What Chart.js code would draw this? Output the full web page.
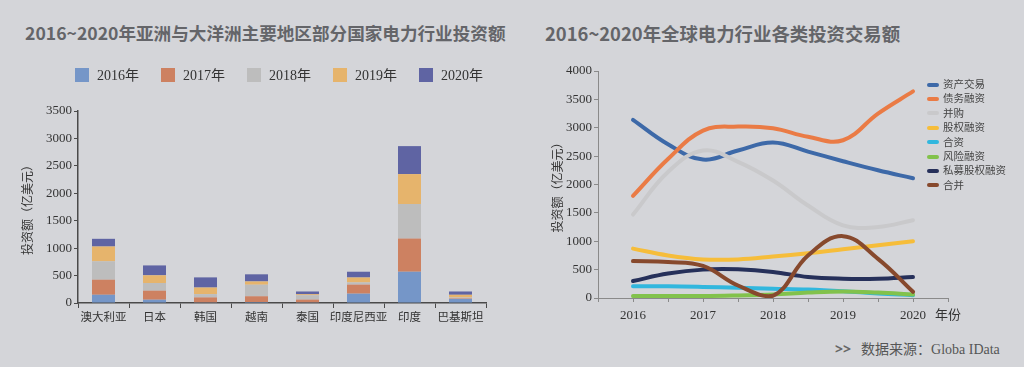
<!DOCTYPE html>
<html>
<head>
<meta charset="utf-8">
<script src="https://cdn.jsdelivr.net/npm/chart.js@4.4.1/dist/chart.umd.min.js"></script>
<style>
    html, body { margin: 0; padding: 0; }
    body {
        width: 1024px; height: 367px; overflow: hidden;
        background: #d4d5d9; position: relative;
        font-family: "Noto Sans CJK SC", "Noto Sans", sans-serif;
    }
    .title {
        position: absolute; top: 20px; font-weight: bold;
        color: #646569; white-space: nowrap;
    }
    .box { position: absolute; }
    .legend { position: absolute; font-family: "Liberation Serif", "Noto Sans CJK SC", serif; color: #333; }
    #legend-left { left: 75px; top: 67px; font-size: 14px; }
    #legend-left .item { display: inline-block; width: 86px; height: 18px; line-height: 18px; white-space: nowrap; }
    #legend-left .mark { display: inline-block; width: 14px; height: 14px; vertical-align: middle; margin: -3px 8px 0 0; }
    #legend-right { left: 927px; top: 78px; font-size: 10.5px; color: #444; }
    #legend-right .item { height: 14.4px; line-height: 14.4px; white-space: nowrap; }
    #legend-right .mark {
        display: inline-block; width: 12px; height: 4px; border-radius: 2px;
        vertical-align: middle; margin-right: 4px; margin-top: -2px;
    }
    #source {
        position: absolute; left: 835px; top: 338px; font-size: 14px; color: #555;
        font-family: "Liberation Serif", "Noto Sans CJK SC", serif; white-space: nowrap;
    }
    #source b { font-family: "Noto Sans", sans-serif; color: #666; margin-right: 10px; }
</style>
</head>
<body>
<div class="title" style="left:25px; font-size:17.6px">2016~2020年亚洲与大洋洲主要地区部分国家电力行业投资额</div>
<div class="title" style="left:545px; font-size:18.4px">2016~2020年全球电力行业各类投资交易额</div>

<div class="box" style="left:0px; top:55px; width:520px; height:280px;">
    <canvas id="chart-left" width="520" height="280"></canvas>
</div>
<div class="box" style="left:540px; top:55px; width:484px; height:280px;">
    <canvas id="chart-right" width="484" height="280"></canvas>
</div>
<div class="legend" id="legend-left"></div>
<div class="legend" id="legend-right"></div>
<div id="source"><b>&gt;&gt;</b>数据来源：Globa IData</div>

<script>
// ============================================
// Data
// ============================================

// left: stacked bars by country (亿美元)
const countries = ['澳大利亚', '日本', '韩国', '越南', '泰国', '印度尼西亚', '印度', '巴基斯坦'];
const yearLabels = ['2016年', '2017年', '2018年', '2019年', '2020年'];
const inv2016 = [150, 60, 12, 18, 12, 170, 570, 75];
const inv2017 = [275, 165, 90, 105, 50, 165, 605, 10];
const inv2018 = [335, 140, 60, 210, 80, 40, 630, 15];
const inv2019 = [270, 140, 120, 60, 18, 90, 545, 50];
const inv2020 = [140, 180, 185, 130, 50, 105, 510, 60];

// right: global deal values, sampled every half year
const dealYears = [2016, 2016.5, 2017, 2017.5, 2018, 2018.5, 2019, 2019.5, 2020];
const dealTypes = ['资产交易', '债务融资', '并购', '股权融资', '合资', '风险融资', '私募股权融资', '合并'];
const assetTrade = [3140, 2710, 2440, 2600, 2740, 2580, 2410, 2250, 2110];
const debtFinance = [1800, 2450, 2950, 3020, 2990, 2840, 2780, 3250, 3640];
const mergersAcq = [1470, 2220, 2600, 2400, 2070, 1630, 1280, 1250, 1370];
const equityFinance = [870, 750, 680, 680, 730, 790, 860, 930, 1000];
const jointVenture = [205, 205, 195, 180, 165, 150, 120, 80, 50];
const ventureFinance = [35, 35, 35, 45, 60, 95, 115, 95, 60];
const privateEquity = [300, 430, 500, 505, 460, 370, 340, 340, 370];
const merger = [650, 635, 565, 220, 40, 750, 1090, 690, 110];

const leftTicks = [0, 500, 1000, 1500, 2000, 2500, 3000, 3500];
const rightTicks = [0, 500, 1000, 1500, 2000, 2500, 3000, 3500, 4000];

// ============================================
// Styles
// ============================================
const barColors = ['#7596c8', '#cd8161', '#bdbdbd', '#e6b46c', '#5f64a3'];
const lineColors = ['#3d69a8', '#ea7b45', '#c9c9cb', '#f6bd3a', '#31b7de', '#82c24c', '#26305a', '#87492d'];
const serif = '"Liberation Serif", "DejaVu Serif", "Noto Sans CJK SC", serif';
const plainNumber = v => String(v);

// ============================================
// Left chart
// ============================================
new Chart(document.getElementById('chart-left'), {
    type: 'bar',
    data: {
        labels: countries,
        datasets: [inv2016, inv2017, inv2018, inv2019, inv2020].map((d, i) => ({
            label: yearLabels[i],
            data: d,
            backgroundColor: barColors[i],
            barPercentage: 0.9,
            categoryPercentage: 0.5
        }))
    },
    options: {
        responsive: false,
        animation: false,
        layout: { padding: { left: 22, right: 34, top: 56, bottom: 0 } },
        scales: {
            x: {
                stacked: true,
                afterFit: s => { s.height = 32; },
                border: { color: '#4a4a4a', width: 1.5 },
                grid: { drawOnChartArea: false, drawTicks: true, tickLength: 5, color: '#4a4a4a', offset: true },
                ticks: { color: '#333', font: { family: serif, size: 11.5 }, padding: 3, maxRotation: 0, autoSkip: false }
            },
            y: {
                stacked: true,
                min: 0,
                max: 3500,
                afterFit: s => { s.width = 56; },
                afterBuildTicks: s => { s.ticks = leftTicks.map(v => ({ value: v })); },
                border: { color: '#4a4a4a', width: 1.5 },
                grid: { drawOnChartArea: false, tickLength: 4, color: '#4a4a4a' },
                ticks: { color: '#333', font: { family: serif, size: 13 }, padding: 2, callback: plainNumber },
                title: { display: true, text: '投资额（亿美元）', color: '#333', font: { family: serif, size: 12 }, padding: 0 }
            }
        },
        plugins: {
            legend: { display: false },
            tooltip: { enabled: false }
        }
    }
});

// ============================================
// Right chart
// ============================================
const dealSeries = [assetTrade, debtFinance, mergersAcq, equityFinance, jointVenture, ventureFinance, privateEquity, merger];

new Chart(document.getElementById('chart-right'), {
    type: 'line',
    data: {
        datasets: dealSeries.map((d, i) => ({
            label: dealTypes[i],
            data: d.map((v, j) => ({ x: dealYears[j], y: v })),
            borderColor: lineColors[i],
            borderWidth: 4,
            pointRadius: 0,
            tension: 0.4,
            borderCapStyle: 'round',
            borderJoinStyle: 'round'
        })).reverse()
    },
    options: {
        responsive: false,
        animation: false,
        layout: { padding: { left: 12, right: 76, top: 16, bottom: 0 } },
        scales: {
            x: {
                type: 'linear',
                min: 2015.5,
                max: 2020.5,
                afterFit: s => { s.height = 37; },
                border: { color: '#8a8a8a', width: 1 },
                grid: { drawOnChartArea: false, tickLength: 4, color: '#8a8a8a' },
                ticks: {
                    stepSize: 0.5,
                    color: '#333',
                    font: { family: serif, size: 13 },
                    padding: 6,
                    callback: v => v === 2020.5 ? '年份' : (Number.isInteger(v) ? String(v) : '')
                }
            },
            y: {
                min: 0,
                max: 4000,
                afterFit: s => { s.width = 46; },
                afterBuildTicks: s => { s.ticks = rightTicks.map(v => ({ value: v })); },
                border: { color: '#8a8a8a', width: 1 },
                grid: { drawOnChartArea: false, tickLength: 4, color: '#8a8a8a' },
                ticks: { color: '#333', font: { family: serif, size: 13 }, padding: 2, callback: plainNumber },
                title: { display: true, text: '投资额（亿美元）', color: '#333', font: { family: serif, size: 12 }, padding: 0 }
            }
        },
        plugins: {
            legend: { display: false },
            tooltip: { enabled: false }
        }
    }
});

// legends, built from the series names
function buildLegend(id, names, colors) {
    const box = document.getElementById(id);
    names.forEach((name, i) => {
        const row = document.createElement('div');
        row.className = 'item';
        row.innerHTML = `<span class="mark" style="background:${colors[i]}"></span>${name}`;
        box.appendChild(row);
    });
}
buildLegend('legend-left', yearLabels, barColors);
buildLegend('legend-right', dealTypes, lineColors);
</script>
</body>
</html>
